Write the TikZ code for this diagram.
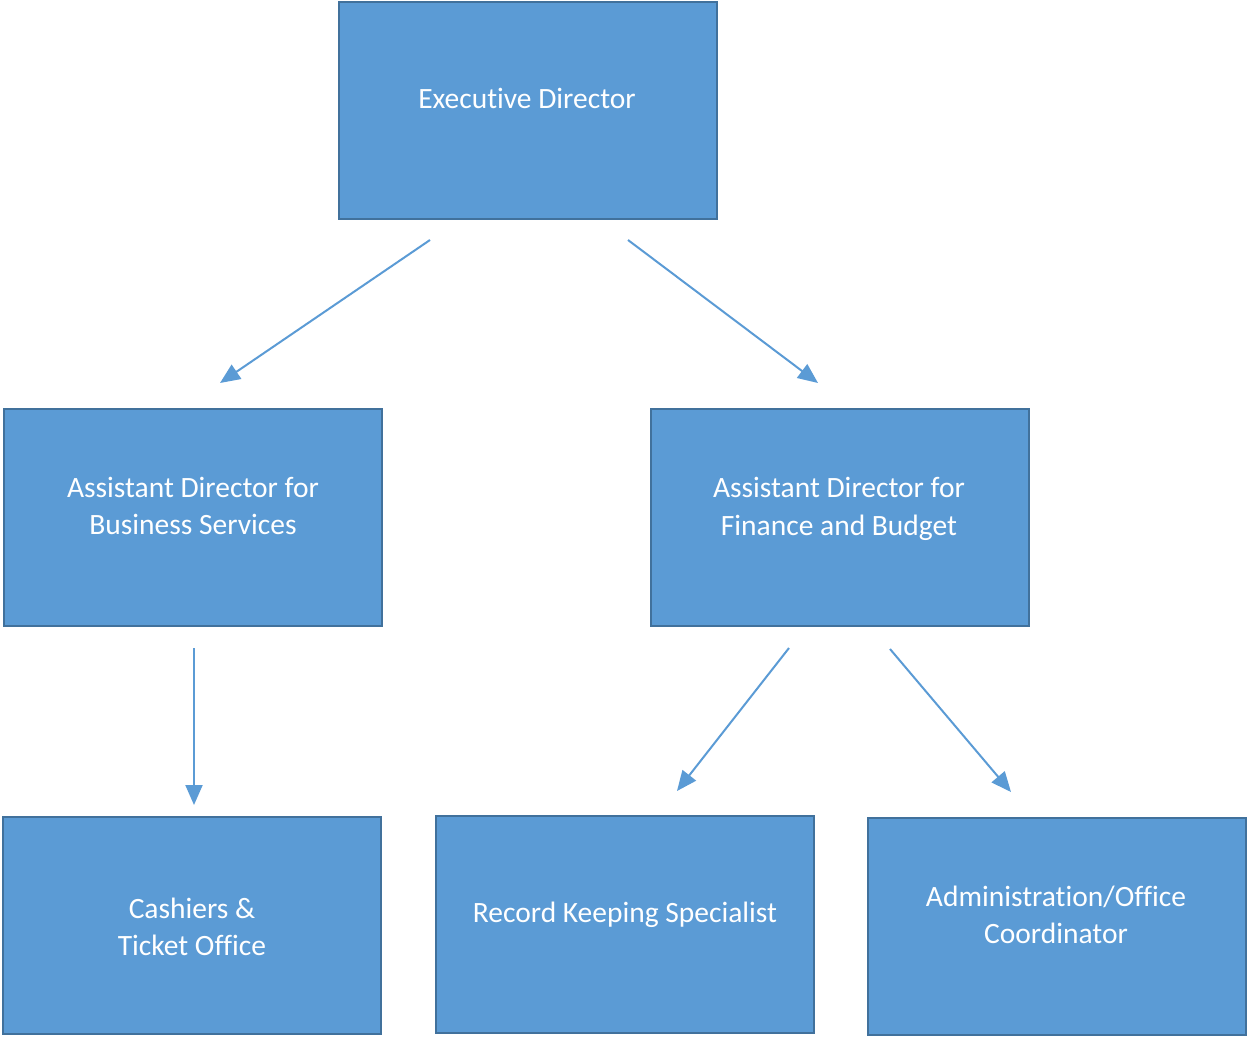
\documentclass[tikz,border=0pt]{standalone}
\usepackage{fontspec}
\setmainfont[Ligatures=NoCommon]{Carlito}
\usetikzlibrary{arrows.meta}

\definecolor{boxfill}{HTML}{5B9BD5}
\definecolor{boxline}{HTML}{41719C}

\begin{document}
\begin{tikzpicture}[
  x = 1pt, y = -1pt,
  box/.style = {draw = boxline, line width = 2pt, fill = boxfill,
                minimum width = 378pt, minimum height = 217pt, inner sep = 0pt},
  boxtext/.style = {text = white, align = center, inner sep = 0pt,
                    font = \fontsize{29.5}{37.5}\selectfont},
  link/.style = {draw = boxfill, line width = 2pt,
                 -{Triangle[length = 20pt, width = 17pt]}}
  ]
  \useasboundingbox (0,0) rectangle (1247,1036);

  % boxes
  \node[box] (exec) at (527.5,110.5) {};
  \node[box] (bus)  at (193,517) {};
  \node[box] (fin)  at (839.5,517.5) {};
  \node[box] (cash) at (192,925) {};
  \node[box] (rec)  at (625,924) {};
  \node[box] (adm)  at (1056.5,926) {};

  \node[boxtext] (execT) at (527,98) {Executive Director};
  \node[boxtext] (busT)  at (193,506) {Assistant Director for\\Business Services};
  \node[boxtext] (finT)  at (839,509) {Assistant Director for\\Finance and Budget};
  \node[boxtext] (cashT) at (192,927) {Cashiers \&\\Ticket Office};
  \node[boxtext] (recT)  at (625,915) {Record Keeping Specialist};
  \node[boxtext] (admT)  at (1056,915) {Administration/Office\\Coordinator};

  % arrow ends
  \coordinate (e1) at (430,240);  \coordinate (b1) at (220,383);
  \coordinate (e2) at (628,240);  \coordinate (f1) at (818,383);
  \coordinate (b2) at (194,648);  \coordinate (c1) at (194,805);
  \coordinate (f2) at (789,648);  \coordinate (r1) at (677,791);
  \coordinate (f3) at (890,649);  \coordinate (a1) at (1011,792);

  \draw[link] (e1) -- (b1);
  \draw[link] (e2) -- (f1);
  \draw[link] (b2) -- (c1);
  \draw[link] (f2) -- (r1);
  \draw[link] (f3) -- (a1);
\end{tikzpicture}
\end{document}
